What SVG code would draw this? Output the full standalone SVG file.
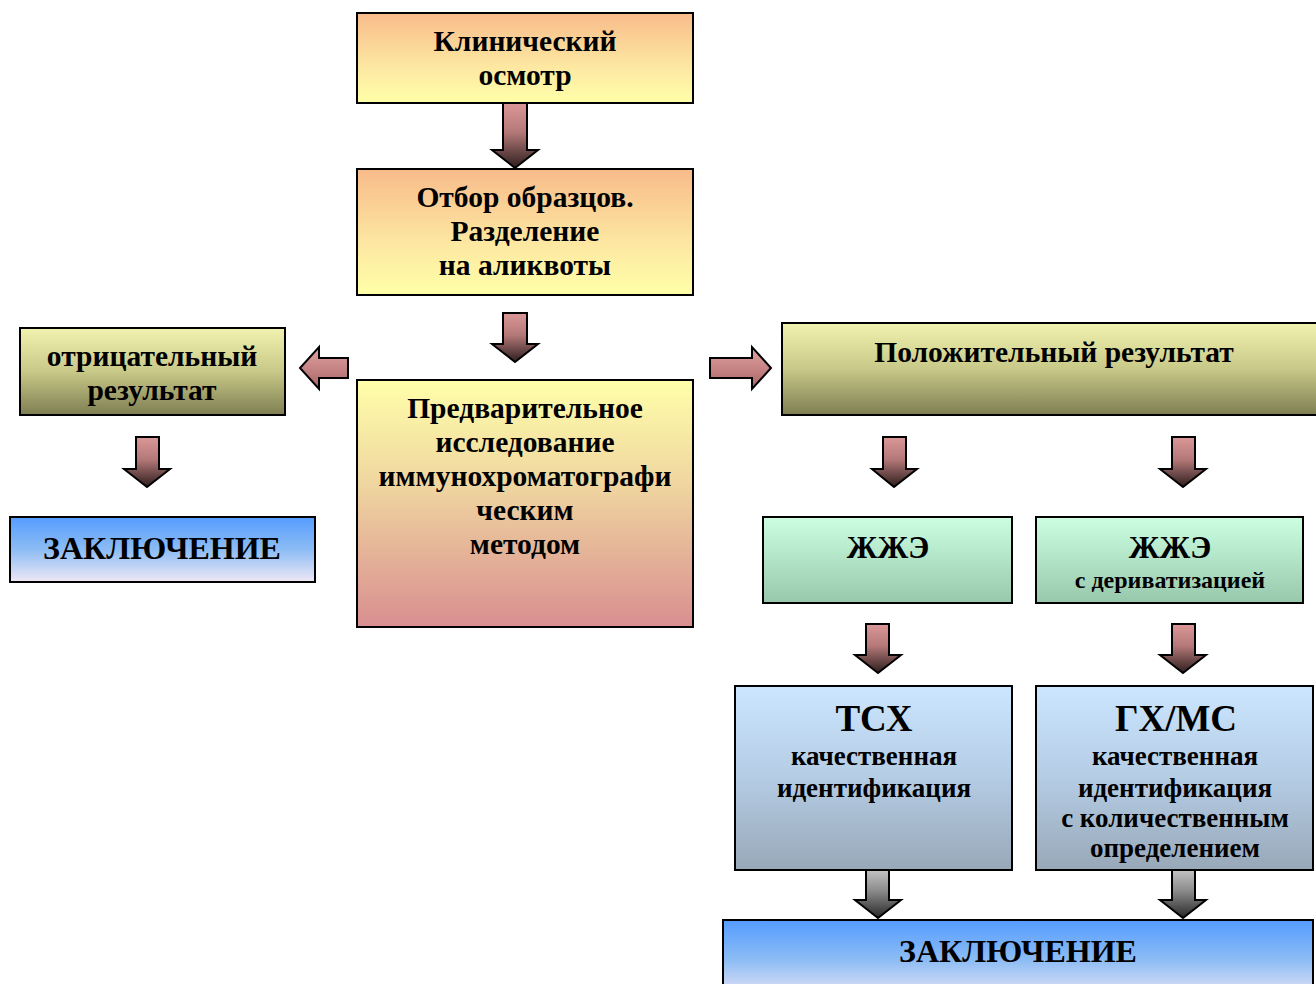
<svg xmlns="http://www.w3.org/2000/svg" width="1316" height="984" viewBox="0 0 1316 984">
<defs>
<linearGradient id="gOrange" x1="0" y1="0" x2="0" y2="1"><stop offset="0" stop-color="#f8bb8a"/><stop offset="0.6" stop-color="#fde8a2"/><stop offset="1" stop-color="#ffffa8"/></linearGradient>
<linearGradient id="gPink" x1="0" y1="0" x2="0" y2="1"><stop offset="0" stop-color="#ffffaa"/><stop offset="0.4" stop-color="#f0d8a0"/><stop offset="1" stop-color="#d98e90"/></linearGradient>
<linearGradient id="gOlive" x1="0" y1="0" x2="0" y2="1"><stop offset="0" stop-color="#f2f2b0"/><stop offset="0.5" stop-color="#c8c888"/><stop offset="1" stop-color="#7e7e52"/></linearGradient>
<linearGradient id="gBlue" x1="0" y1="0" x2="0" y2="1"><stop offset="0" stop-color="#559cff"/><stop offset="0.5" stop-color="#8cbcf4"/><stop offset="1" stop-color="#f0e8f6"/></linearGradient>
<linearGradient id="gMint" x1="0" y1="0" x2="0" y2="1"><stop offset="0" stop-color="#ccffe2"/><stop offset="1" stop-color="#98c8ac"/></linearGradient>
<linearGradient id="gSky" x1="0" y1="0" x2="0" y2="1"><stop offset="0" stop-color="#cce6ff"/><stop offset="0.5" stop-color="#b4cce4"/><stop offset="1" stop-color="#98a8b8"/></linearGradient>
<linearGradient id="gArrowV" x1="0" y1="0" x2="0" y2="1"><stop offset="0" stop-color="#dc9898"/><stop offset="0.45" stop-color="#b47878"/><stop offset="1" stop-color="#2e1e1e"/></linearGradient>
<linearGradient id="gArrowH" x1="0" y1="0" x2="0" y2="1"><stop offset="0" stop-color="#e4a4a4"/><stop offset="1" stop-color="#a86464"/></linearGradient>
<linearGradient id="gArrowG" x1="0" y1="0" x2="0" y2="1"><stop offset="0" stop-color="#c8c8c8"/><stop offset="0.45" stop-color="#8c8c8c"/><stop offset="1" stop-color="#282828"/></linearGradient>
</defs>
<style>
.box{stroke:#000;stroke-width:2}
.arr{stroke:#000;stroke-width:2;stroke-linejoin:miter}
text{font-family:"Liberation Serif","Times New Roman",serif;font-weight:bold;fill:#000;text-anchor:middle}
.t{font-size:29.5px}
.m{font-size:27px}
.s{font-size:24px}
.big{font-size:37px}
.h{font-size:32px}
.j{font-size:31px}
</style>
<rect width="1316" height="984" fill="#fff"/>
<g id="connectors">
<polygon class="arr" fill="url(#gArrowV)" points="503,103 527,103 527,150 538,150 515,168 492,150 503,150"/>
<polygon class="arr" fill="url(#gArrowV)" points="503,313 527,313 527,344 538,344 515,362 492,344 503,344"/>
<polygon class="arr" fill="url(#gArrowH)" points="348,358 319,358 319,347 300,368 319,389 319,378 348,378"/>
<polygon class="arr" fill="url(#gArrowH)" points="710,358 752,358 752,347 771,368 752,389 752,378 710,378"/>
<polygon class="arr" fill="url(#gArrowV)" points="136,437 159,437 159,469 170,469 147,487 124,469 136,469"/>
<polygon class="arr" fill="url(#gArrowV)" points="883,437 906,437 906,469 917,469 894,487 872,469 883,469"/>
<polygon class="arr" fill="url(#gArrowV)" points="1172,437 1195,437 1195,469 1206,469 1183,487 1160,469 1172,469"/>
<polygon class="arr" fill="url(#gArrowV)" points="866,624 889,624 889,655 901,655 878,673 855,655 866,655"/>
<polygon class="arr" fill="url(#gArrowV)" points="1172,624 1195,624 1195,655 1206,655 1183,673 1160,655 1172,655"/>
<polygon class="arr" fill="url(#gArrowG)" points="866,868 889,868 889,900 901,900 878,918 855,900 866,900"/>
<polygon class="arr" fill="url(#gArrowG)" points="1172,868 1195,868 1195,900 1206,900 1183,918 1160,900 1172,900"/>
</g>
<g id="n-klin"><rect class="box" x="357" y="13" width="336" height="90" fill="url(#gOrange)"/><text class="t" x="525" y="51">Клинический</text><text class="t" x="525" y="85">осмотр</text></g>
<g id="n-otbor"><rect class="box" x="357" y="169" width="336" height="126" fill="url(#gOrange)"/><text class="t" x="525" y="207">Отбор образцов.</text><text class="t" x="525" y="241">Разделение</text><text class="t" x="525" y="275">на аликвоты</text></g>
<g id="n-pred"><rect class="box" x="357" y="380" width="336" height="247" fill="url(#gPink)"/><text class="t" x="525" y="418">Предварительное</text><text class="t" x="525" y="452">исследование</text><text class="t" x="525" y="486">иммунохроматографи</text><text class="t" x="525" y="520">ческим</text><text class="t" x="525" y="554">методом</text></g>
<g id="n-neg"><rect class="box" x="20" y="328" width="265" height="87" fill="url(#gOlive)"/><text class="t" x="152" y="366">отрицательный</text><text class="t" x="152" y="400">результат</text></g>
<g id="n-zakl1"><rect class="box" x="10" y="517" width="305" height="65" fill="url(#gBlue)"/><text class="h" x="162" y="559">ЗАКЛЮЧЕНИЕ</text></g>
<g id="n-pos"><rect class="box" x="782" y="323" width="540" height="92" fill="url(#gOlive)"/><text class="t" x="1054" y="362">Положительный результат</text></g>
<g id="n-zhzhe1"><rect class="box" x="763" y="517" width="249" height="86" fill="url(#gMint)"/><text class="j" x="888" y="558">ЖЖЭ</text></g>
<g id="n-zhzhe2"><rect class="box" x="1036" y="517" width="267" height="86" fill="url(#gMint)"/><text class="j" x="1170" y="558">ЖЖЭ</text><text class="s" x="1170" y="588">с дериватизацией</text></g>
<g id="n-tsx"><rect class="box" x="735" y="686" width="277" height="184" fill="url(#gSky)"/><text class="big" x="874" y="731">ТСХ</text><text class="m" x="874" y="765">качественная</text><text class="m" x="874" y="797">идентификация</text></g>
<g id="n-gxms"><rect class="box" x="1036" y="686" width="277" height="184" fill="url(#gSky)"/><text class="big" x="1176" y="731">ГХ/МС</text><text class="m" x="1175" y="765">качественная</text><text class="m" x="1175" y="797">идентификация</text><text class="m" x="1175" y="827">с количественным</text><text class="m" x="1175" y="857">определением</text></g>
<g id="n-zakl2"><rect class="box" x="723" y="920" width="590" height="80" fill="url(#gBlue)"/><text class="h" x="1018" y="962">ЗАКЛЮЧЕНИЕ</text></g>
</svg>
